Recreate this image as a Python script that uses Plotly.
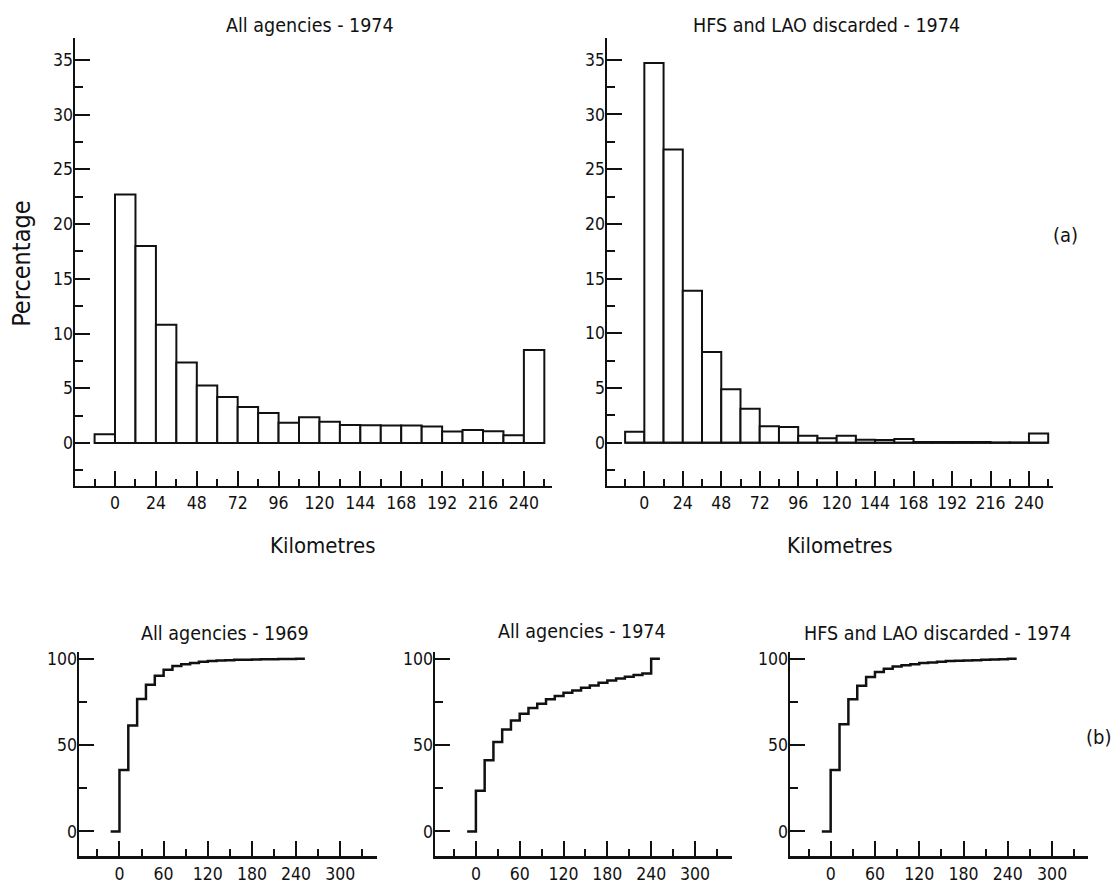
import plotly.graph_objects as go

# ---------------- data ----------------
# histogram bins (edges, km), bin width 12 km
bin_edges = [-12, 0, 12, 24, 36, 48, 60, 72, 84, 96, 108, 120, 132, 144, 156,
             168, 180, 192, 204, 216, 228, 240, 252]
bin_width = 12

# (a) percentage per bin
pct_all_1974 = [0.8, 22.7, 18.0, 10.8, 7.35, 5.25, 4.2, 3.3, 2.75, 1.85, 2.35,
                1.95, 1.65, 1.62, 1.6, 1.6, 1.52, 1.06, 1.2, 1.08, 0.72, 8.5]
pct_hfs_lao_1974 = [1.0, 34.7, 26.8, 13.9, 8.3, 4.9, 3.1, 1.5, 1.45, 0.65, 0.42,
                    0.65, 0.28, 0.25, 0.35, 0.08, 0.08, 0.08, 0.08, 0.02, 0.02, 0.85]

# (b) cumulative percentage, level on each bin interval
cum_all_1969 = [0, 35.6, 61.3, 76.7, 85.0, 90.2, 93.7, 95.8, 96.9, 97.6, 98.3,
                98.7, 99.0, 99.2, 99.4, 99.5, 99.6, 99.7, 99.8, 99.85, 99.9, 100]
cum_all_1974 = [0, 23.5, 41.2, 51.8, 59.0, 64.3, 68.2, 71.5, 74.0, 76.5, 78.4,
                80.3, 81.7, 83.2, 84.6, 86.1, 87.5, 88.6, 89.6, 90.6, 91.5, 100]
cum_hfs_lao_1974 = [0, 35.6, 62.1, 76.5, 84.4, 89.4, 92.3, 94.2, 95.6, 96.3, 96.9,
                    97.5, 97.9, 98.3, 98.7, 98.8, 99.0, 99.2, 99.4, 99.6, 99.8, 100]

title_a_left = "All agencies - 1974"
title_a_right = "HFS and LAO discarded - 1974"
titles_b = ["All agencies - 1969", "All agencies - 1974", "HFS and LAO discarded - 1974"]

# ---------------- figure ----------------
W, H = 1116, 884
FONT = "DejaVu Sans Condensed, DejaVu Sans, sans-serif"
BLACK = "#111111"
TICK_SIZE = 17.5

fig = go.Figure()

centers = [e + bin_width / 2 for e in bin_edges[:-1]]

def px_x(p):
    return p / W

def px_y(p):
    return 1 - p / H

# top histograms
for vals, ax in [(pct_all_1974, ""), (pct_hfs_lao_1974, "2")]:
    fig.add_trace(go.Bar(
        x=centers, y=vals, width=bin_width,
        marker=dict(color="white", line=dict(color=BLACK, width=2)),
        xaxis="x" + ax, yaxis="y" + ax, showlegend=False, hoverinfo="skip"))
    fig.add_trace(go.Scatter(
        x=[bin_edges[0], bin_edges[-1]], y=[0, 0], mode="lines",
        line=dict(color=BLACK, width=2), xaxis="x" + ax, yaxis="y" + ax,
        showlegend=False, hoverinfo="skip"))

# bottom cumulative step curves
for vals, ax in [(cum_all_1969, "3"), (cum_all_1974, "4"), (cum_hfs_lao_1974, "5")]:
    fig.add_trace(go.Scatter(
        x=bin_edges, y=vals + [vals[-1]], mode="lines",
        line=dict(color=BLACK, width=2.5, shape="hv"),
        xaxis="x" + ax, yaxis="y" + ax, showlegend=False, hoverinfo="skip"))

def axis(domain, rng, dtick, mdtick, anchor, mlen, standoff=0):
    return dict(domain=domain, range=rng, anchor=anchor, showgrid=False,
                zeroline=False, showline=True, linecolor=BLACK, linewidth=2.5,
                ticks="inside", ticklen=15, tickwidth=2, tickcolor=BLACK,
                tick0=0, dtick=dtick, ticklabelstandoff=standoff,
                minor=dict(ticks="inside", ticklen=mlen, tickwidth=2,
                           tickcolor=BLACK, tick0=0, dtick=mdtick, showgrid=False),
                tickfont=dict(family=FONT, size=TICK_SIZE, color=BLACK))

top_y = [px_y(485), px_y(35)]
bot_y = [px_y(857), px_y(651.5)]

fig.update_layout(
    width=W, height=H, margin=dict(l=0, r=0, t=0, b=0),
    paper_bgcolor="white", plot_bgcolor="white", bargap=0,
    font=dict(family=FONT, color=BLACK),
    xaxis=axis([px_x(75), px_x(552)], [-23.5, 256.5], 24, 12, "y", 7),
    yaxis=axis(top_y, [-3.9, 37.0], 5, 2.5, "x", 8, -4),
    xaxis2=axis([px_x(607), px_x(1053)], [-23.3, 255], 24, 12, "y2", 7),
    yaxis2=axis(top_y, [-3.93, 37.0], 5, 2.5, "x2", 8, -4),
    xaxis3=axis([px_x(79), px_x(377)], [-55, 350], 60, 30, "y3", 7),
    yaxis3=axis(bot_y, [-14.3, 104.2], 50, 25, "x3", 8, -4),
    xaxis4=axis([px_x(435), px_x(732)], [-56, 350.7], 60, 30, "y4", 7),
    yaxis4=axis(bot_y, [-14.3, 104.2], 50, 25, "x4", 8, -4),
    xaxis5=axis([px_x(790), px_x(1088)], [-55.1, 348.6], 60, 30, "y5", 7),
    yaxis5=axis(bot_y, [-14.3, 104.2], 50, 25, "x5", 8, -4),
)

ann = []
def add_text(text, x, y, size, xref="paper", **kw):
    ann.append(dict(text=text, x=x, y=y, xref=xref, yref="paper",
                    showarrow=False, font=dict(family=FONT, size=size, color=BLACK),
                    xanchor="center", yanchor="middle", **kw))

add_text(title_a_left, px_x(310), px_y(23), 19.5)
add_text(title_a_right, px_x(826), px_y(23), 19.5)
add_text("Percentage", px_x(22), px_y(262), 25, textangle=-90)
add_text("(a)", px_x(1065), px_y(233), 20)
add_text("(b)", px_x(1098), px_y(737), 20)
add_text(titles_b[0], px_x(225), px_y(633), 19.5)
add_text(titles_b[1], px_x(582), px_y(631), 19.5)
add_text(titles_b[2], px_x(937), px_y(633), 19.5)
add_text("Kilometres", 122, px_y(545), 22, xref="x")
add_text("Kilometres", 122, px_y(545), 22, xref="x2")

fig.update_layout(annotations=ann)
fig.write_html("out.html",
               config={"displayModeBar": False, "staticPlot": True},
               post_script="document.body.style.margin='0';"
                           "document.body.style.overflow='hidden';")
